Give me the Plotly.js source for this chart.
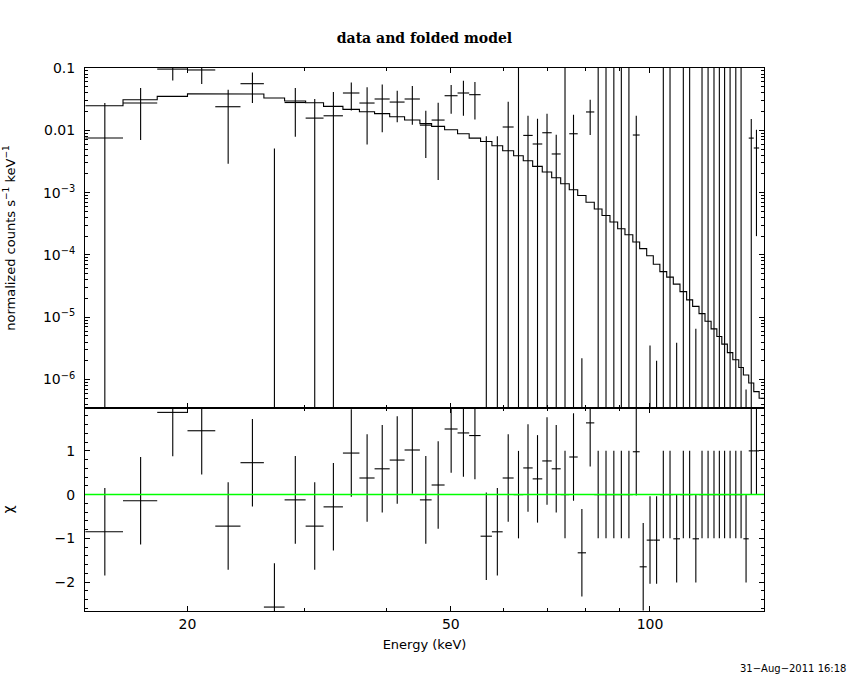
<!DOCTYPE html>
<html>
<head>
<meta charset="utf-8">
<script src="https://cdn.plot.ly/plotly-3.0.1.min.js"></script>
<style>html,body{margin:0;padding:0;background:#fff;}</style>
</head>
<body>
<div id="chart" style="width:850px;height:680px;"></div>
<script>
// ---- data ----
// channel (bin) edges in keV
const binEdges = [14.02, 15.98, 18.0, 20.0, 22.03, 24.05, 26.09, 28.04, 30.17, 32.11,
  34.35, 36.38, 38.35, 40.42, 42.57, 44.9, 46.77, 48.93, 51.19, 53.3,
  55.46, 57.69, 59.89, 62.22, 64.34, 66.48, 68.74, 71.03, 73.29, 75.51,
  77.76, 80.04, 82.38, 84.62, 87.0, 89.36, 91.66, 94.2, 96.47, 98.86,
  101.16, 103.5, 105.99, 108.45, 111.0, 113.6, 116.0, 118.6, 121.1, 123.7,
  126.2, 128.4, 130.9, 133.4, 136.2, 138.4, 141.0, 143.5, 146.2, 148.7];

// folded model, normalized counts s^-1 keV^-1
const modelRate = [0.0248, 0.0310, 0.0350, 0.0387, 0.0390, 0.0382, 0.0330, 0.0295, 0.0277, 0.0242,
  0.0217, 0.0199, 0.0185, 0.0165, 0.0146, 0.0128, 0.01156, 0.01023, 0.0088, 0.0075,
  0.0066, 0.00566, 0.00471, 0.0039, 0.00325, 0.00264, 0.00214, 0.00173, 0.00139, 0.00111,
  0.00090, 0.00070, 0.000546, 0.00043, 0.000337, 0.000263, 0.000211, 0.000161, 0.000126, 9.7e-5,
  7.1e-5, 5.4e-5, 4.4e-5, 3.4e-5, 2.57e-5, 1.9e-5, 1.49e-5, 1.14e-5, 8.6e-6, 6.5e-6,
  4.9e-6, 3.7e-6, 2.7e-6, 2.08e-6, 1.56e-6, 1.18e-6, 8.8e-7, 6.4e-7, 5.0e-7];

// measured rate and its 1-sigma error
const dataRate = [0.00752, 0.0274, 0.096, 0.093, 0.0239, 0.056, -0.0127, 0.0279, 0.0157, 0.0171,
  0.0397, 0.0274, 0.0318, 0.0284, 0.0318, 0.0121, 0.0146, 0.0359, 0.0397, 0.0373,
  -0.0196, -0.0075, 0.0113, -0.001, 0.00828, 0.00603, 0.00914, 0.00417, -0.001, 0.0088,
  -0.0027178, 0.0197, -0.001, -0.001, -0.001, -0.001, -0.001, 0.0084, -0.000204, -0.0024965,
  -0.001698, -0.001, -0.001, -0.0029961, -0.001, -0.001, -0.0008335, -0.001, -0.001, -0.001,
  -0.001, -0.001, -0.001, -0.001, -0.001, -0.00004831, 0.0075, 0.0052, null];
const dataErr = [0.0199, 0.0204, 0.033, 0.0377, 0.021, 0.0285, 0.0178, 0.020, 0.016, 0.0241,
  0.019, 0.0215, 0.0225, 0.0149, 0.0195, 0.0085, 0.013, 0.0175, 0.0225, 0.0224,
  0.0276, 0.0155, 0.0175, 0.2, 0.0089, 0.0093, 0.0093, 0.0043, 0.2, 0.009,
  0.00272, 0.0113, 0.2, 0.2, 0.2, 0.2, 0.2, 0.0087, 0.0002, 0.0025,
  0.0017, 0.2, 0.2, 0.003, 0.2, 0.2, 0.00084, 0.2, 0.2, 0.2,
  0.2, 0.2, 0.2, 0.2, 0.2, 0.000049, 0.0077, 0.005, null];

// residuals (chi) and their errors
const chiValues = [-0.85, -0.14, 1.88, 1.46, -0.72, 0.73, -2.57, -0.12, -0.72, -0.28,
  0.95, 0.38, 0.59, 0.79, 1.02, -0.12, 0.22, 1.50, 1.41, 1.35,
  -0.95, -0.85, 0.38, 0.0, 0.61, 0.36, 0.77, 0.59, 0.0, 0.86,
  -1.33, 1.64, 0.0, 0.0, 0.0, 0.0, 0.0, 0.98, -1.65, -1.04,
  -1.04, 0.0, 0.0, -1.01, 0.0, 0.0, -1.01, 0.0, 0.0, 0.0,
  0.0, 0.0, 0.0, 0.0, 0.0, -1.01, 1.0, 1.0, null];
const chiErr = [1, 1, 1, 1, 1, 1, 1, 1, 1, 1,
  1, 1, 1, 1, 1, 1, 1, 1, 1, 1,
  1, 1, 1, 1, 1, 1, 1, 1, 1, 1,
  1, 1, 1, 1, 1, 1, 1, 1, 1, 1,
  1, 1, 1, 1, 1, 1, 1, 1, 1, 1,
  1, 1, 1, 1, 1, 1, 1, 1, null];

// tick labels
const energyTickVals = [20, 50, 100];
const energyTickText = ['20', '50', '100'];
const energyMinorVals = [30, 40, 60, 70, 80, 90];
const rateTickVals = [0.1, 0.01, 1e-3, 1e-4, 1e-5, 1e-6];
const rateTickText = ['0.1', '0.01', '10<sup>−3</sup>', '10<sup>−4</sup>', '10<sup>−5</sup>', '10<sup>−6</sup>'];
const chiTickVals = [-2, -1, 0, 1];
const chiTickText = ['−2', '−1', '0', '1'];

// ---- build marks from the arrays ----
const n = modelRate.length;
const lo = binEdges.slice(0, n);
const hi = binEdges.slice(1, n + 1);
const mid = lo.map((l, i) => (l + hi[i]) / 2);
const FLOOR = 1e-12;

const dX = [], dY = [];
for (let i = 0; i < n; i++) {
  const d = dataRate[i], e = dataErr[i];
  if (d === null || e === null) continue;
  if (d > 0) { dX.push(lo[i], hi[i], null); dY.push(d, d, null); }
  const top = d + e, bot = d - e;
  if (top > 0) { dX.push(mid[i], mid[i], null); dY.push(Math.max(bot, FLOOR), top, null); }
}
const mX = [], mY = [];
for (let i = 0; i < n; i++) { mX.push(lo[i], hi[i]); mY.push(modelRate[i], modelRate[i]); }

const rX = [], rY = [];
for (let i = 0; i < n; i++) {
  const c = chiValues[i], e = chiErr[i];
  if (c === null || e === null) continue;
  rX.push(lo[i], hi[i], null); rY.push(c, c, null);
  rX.push(mid[i], mid[i], null); rY.push(c - e, c + e, null);
}

const lineStyle = {color: '#000000', width: 1.1};
const traces = [
  {type: 'scatter', mode: 'lines', x: mX, y: mY, xaxis: 'x2', yaxis: 'y', line: lineStyle, name: 'model', hoverinfo: 'skip'},
  {type: 'scatter', mode: 'lines', x: dX, y: dY, xaxis: 'x2', yaxis: 'y', line: lineStyle, name: 'data', connectgaps: false, hoverinfo: 'skip'},
  {type: 'scatter', mode: 'lines', x: rX, y: rY, xaxis: 'x', yaxis: 'y2', line: lineStyle, name: 'residuals', connectgaps: false, hoverinfo: 'skip'}
];

const font = {family: 'DejaVu Sans, Liberation Sans, sans-serif', size: 13, color: '#000'};
const split = 203 / 543;
const xRange = [Math.log10(14.0), Math.log10(148.7)];
const commonX = {
  type: 'log', range: xRange, showline: true, linecolor: '#000', linewidth: 1, mirror: 'allticks',
  ticks: 'inside', ticklen: 5, tickwidth: 1, tickcolor: '#000', showgrid: false, zeroline: false,
  tickmode: 'array', tickvals: energyTickVals, ticktext: energyTickText,
  minor: {tickmode: 'array', tickvals: energyMinorVals, ticks: 'inside', ticklen: 3, tickcolor: '#000', showgrid: false}
};

const rateMinor = [];
for (let p = -7; p <= -2; p++) for (let k = 2; k <= 9; k++) rateMinor.push(k * Math.pow(10, p));
const chiMinor = [];
for (let v = -2.6; v <= 1.9; v += 0.2) chiMinor.push(Math.round(v * 10) / 10);

const layout = {
  width: 850, height: 680,
  margin: {l: 85, r: 86, t: 68, b: 69},
  paper_bgcolor: '#fff', plot_bgcolor: '#fff',
  showlegend: false, font: font,
  title: {text: 'data and folded model', font: {family: 'DejaVu Serif, serif', size: 14, color: '#000', weight: 'bold'},
          xref: 'paper', x: 0.5, xanchor: 'center', yref: 'container', y: 1 - 38 / 680, yanchor: 'middle'},
  xaxis: Object.assign({}, commonX, {anchor: 'y2', tickfont: {size: 14},
          title: {text: 'Energy (keV)', font: {size: 13}, standoff: 9}}),
  xaxis2: Object.assign({}, commonX, {anchor: 'y', matches: 'x', showticklabels: false}),
  yaxis: {domain: [split, 1], type: 'log', range: [Math.log10(3.49e-7), -1],
          showline: true, linecolor: '#000', linewidth: 1, mirror: 'allticks',
          ticks: 'inside', ticklen: 5, tickcolor: '#000', showgrid: false, zeroline: false,
          tickmode: 'array', tickvals: rateTickVals, ticktext: rateTickText, tickfont: {size: 14},
          ticklabelstandoff: 6,
          minor: {tickmode: 'array', tickvals: rateMinor, ticks: 'inside', ticklen: 3, tickcolor: '#000', showgrid: false},
          title: {text: 'normalized counts s<sup>−1</sup> keV<sup>−1</sup>', font: {size: 13}, standoff: 24}},
  yaxis2: {domain: [0, split], range: [-2.66, 1.98],
          showline: true, linecolor: '#000', linewidth: 1, mirror: 'allticks',
          ticks: 'inside', ticklen: 5, tickcolor: '#000', showgrid: false, zeroline: false,
          tickmode: 'array', tickvals: chiTickVals, ticktext: chiTickText, tickfont: {size: 14},
          ticklabelstandoff: 6,
          minor: {tickmode: 'array', tickvals: chiMinor, ticks: 'inside', ticklen: 3, tickcolor: '#000', showgrid: false},
          title: {text: 'χ', font: {size: 14}, standoff: 40}},
  shapes: [{type: 'line', xref: 'paper', x0: 0, x1: 1, yref: 'y2', y0: 0, y1: 0,
            line: {color: '#00ff00', width: 1.5}, layer: 'above'}],
  annotations: [{text: '31−Aug−2011 16:18', xref: 'paper', yref: 'paper',
                 x: (848 - 85) / 679, y: (611 - 668) / 543, xanchor: 'right', yanchor: 'middle',
                 showarrow: false, font: {size: 10, color: '#000'}}]
};

Plotly.newPlot('chart', traces, layout, {staticPlot: true, displayModeBar: false});
</script>
</body>
</html>
